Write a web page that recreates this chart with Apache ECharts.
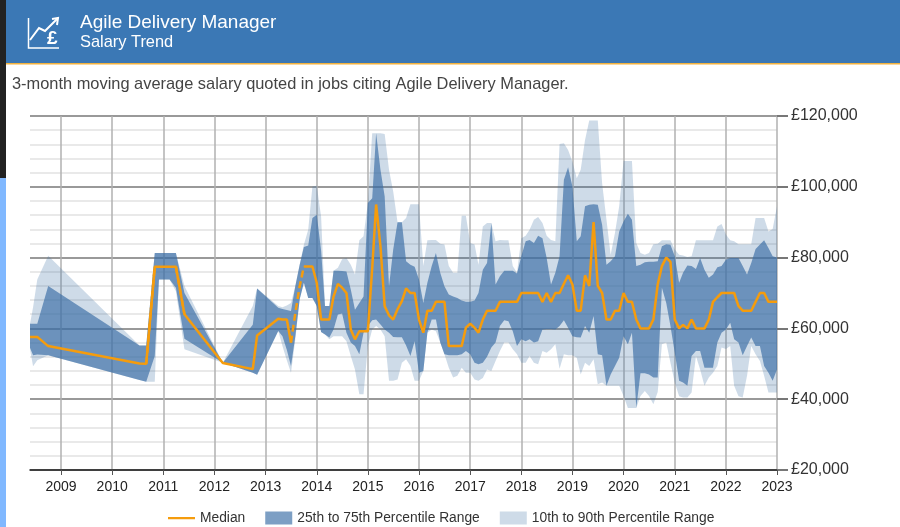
<!DOCTYPE html>
<html>
<head>
<meta charset="utf-8">
<title>Agile Delivery Manager Salary Trend</title>
<script src="https://cdn.jsdelivr.net/npm/echarts@6/dist/echarts.min.js"></script>
<style>
html,body{margin:0;padding:0;background:#fff;overflow:hidden;}
#main{width:900px;height:527px;}
</style>
</head>
<body>
<div id="main"></div>
<script>
// sparse quotes up to spring 2013, monthly after that
var earlyDates = ['2008-05-24','2008-06-15','2008-07-15','2008-10-01','2010-07-15','2010-09-01','2010-11-01','2010-12-01','2011-02-15','2011-04-01','2011-06-01','2012-03-01','2012-10-01','2012-11-01','2013-04-01'];

// salaries in £ thousand
var median = [57.6,57.6,57.6,55,50.1,50,77.4,77.4,77.4,77.4,64,50.2,48.5,58,62.7,
  62.5,62.5,56,64.4,71.9,77.5,77.5,77.5,
  72.9,62.5,62.5,62.5,69,72.6,71.5,70,59.7,56.9,59.2,59.2,
  59.2,77,95,83.2,66.3,63.7,62.5,65.4,67.7,71.3,70,70,
  62.5,58.8,65,65,67.5,67.5,67.5,55,55,55,55,60.2,
  61.3,60.2,58.8,62.5,65,65,65,67.5,67.5,67.5,67.5,67.5,
  70,70,70,70,70,67.5,70,67.5,70,70,72.6,75,
  72.4,65,65,75,72,90,72,70,62.5,62.5,65,65,
  70,67.5,67.5,62.5,60,60,60,62.5,72.4,77.6,80,78.8,
  62.5,60,61,60,62.5,60,60,60,62.5,67.5,68.8,70,
  70,70,70,66.3,65,65,65,67.5,70,70,67.5,67.5,
  67.5];
var p75 = [61.3,61.3,61.3,72,55.2,55.2,81.3,81.3,81.3,81.3,70,50.3,61,71.3,65.8,
  65.5,65.2,64.9,72,78,83,83.4,91.2,
  92.1,82,66.3,66.3,76.3,76.3,76.2,76.1,71,65.3,67.2,69,
  95.4,96.8,115.1,104.8,97.3,71.9,82.3,90,90,79,78,77.4,
  73.8,67.2,72.9,77.6,81.3,75.7,71.9,69.6,69,68.6,67.9,67.5,
  67.5,67.9,70,76.6,78.5,89.8,72.4,74.7,76.3,76.3,76.3,75.5,
  80.4,84.6,85,84.1,86.2,85.5,79.9,72.4,75.7,80.4,102,105.5,
  100.1,84.6,86,94.5,94.9,95.1,94.9,89.3,78,79,80.4,87.4,
  90.2,92.4,90.7,77.6,78,78.7,78.8,78.8,79,83.2,83.8,83.6,
  80.4,72.9,75.7,77.8,77.6,76.8,79.9,76.6,74.3,75.2,77.3,77.6,
  79.4,79.9,79.9,79.9,77.6,75.2,78.5,82.4,83.7,84.9,82.7,80.4,
  80];
var p90 = [61.3,66,73.8,80.5,55.2,55.2,81.3,81.3,81.3,81.3,72,50.3,66.3,71.3,66.3,
  66,66.5,67.2,72,78,83.6,87.9,100.1,
  100.3,91.6,66.3,66.3,76.3,77.1,79.5,79.9,78,75.2,84.9,86,
  95.4,115.1,115.1,115.1,114.9,104.8,98.7,90,90,91.2,95.1,95.1,
  95.1,77.6,84.9,85,85,83.9,83.7,77.6,75.7,75.7,91.8,91.8,
  84.1,83.7,78,88.8,89.8,89.8,84.6,85,84.9,84.9,77.6,75.7,
  85.5,86.2,87.9,90.7,91.5,89.8,86.2,85,84.6,112.1,112.3,110.4,
  107.1,102.4,104.8,113.2,118.7,118.7,118.7,101,90.7,80.8,87,94.5,
  107.3,107.3,107.3,84.1,81.3,80.8,81.3,83.8,83.9,84.9,84.9,84.9,
  82.3,80.8,80.6,80.2,80.4,84.9,84.9,84.9,84.9,84.9,88.8,89.5,
  86.5,84.9,84.6,83.8,83.8,83.8,83.8,91.2,91.2,91.2,87.4,88.1,
  94.5];
var p25 = [54.5,52.4,52.6,52.4,45.4,44.9,52.2,73.8,73.8,71.5,57.1,50.3,47.5,46.9,59.3,
  57.8,54,49.4,57.8,68.2,72.9,68.6,68.6,
  66.3,59,58.3,57.4,59.7,63.9,64.2,58.8,56,55,52.7,58.8,
  60.7,62.3,62.5,61.1,59.7,58.8,57.6,57.5,57.5,55.2,52.2,56.4,
  47.5,48,58.8,62.5,62.5,56,52.7,52.4,52.4,52.4,52.7,53.6,
  52.7,50.3,49.9,50.3,52,54.6,56,60.7,62.3,62,59.2,55,
  56.9,56.4,56.9,56,56.4,59.7,59.8,59.8,59.7,60.7,62.3,60.2,
  57.8,57.5,57.4,60.7,58.8,63.5,52.7,52.4,43.8,47,49.4,51.7,
  57.8,55.5,58.8,37.6,47.3,47.3,47,46.1,46.1,71.5,67.2,60.7,
  53.1,45.2,44.7,43.8,52.2,53.6,53.6,48.9,48.9,48.9,56,58.8,
  59.7,61.6,56.9,56,52.4,55,57.4,55,55,49.4,47.5,45.2,
  48.4];
var p10 = [54.1,49.3,51,52.4,45.4,44.9,44.9,73.8,73.8,70.5,54.1,50.3,47.5,46.9,59.3,
  55,51,47.5,56.9,68.2,72.9,68.6,68.6,
  66.3,59,58.3,56.9,57.8,57.8,57.8,56.4,52.2,48.4,41.4,41.4,
  55,59.7,60.7,59.7,57.8,45.2,45.2,45.6,50.3,51.3,49.4,45.2,
  45.2,48,58.8,59.7,59.2,56,52.7,48.9,46.1,46.6,48.9,47.5,
  47.5,45.6,45.2,46,48.4,48,50.8,53.6,56,56,54.1,52.7,
  50.3,50.3,52.2,50.3,49.9,53.6,53.1,54.1,55.5,48.6,52.7,52.4,
  52.4,51.7,47,50.3,49.4,51.3,44.2,44.7,43.8,43.8,43.8,43.8,
  40.9,37.5,37.5,37.5,40.9,42.3,40.9,38.6,42,55.5,56,50.3,
  44.7,40.8,40.5,40.5,41.9,52.2,48.4,43.8,46.1,47.5,49.4,54.6,
  54.2,55,43.8,40.8,40.5,46.6,55,52.7,50.8,46.6,41.9,41.9,
  41.9];

// stretches where the median line shows dashed in the source
var dashedSpans = [['2010-09-01','2010-11-01'],['2011-04-01','2011-06-01'],['2013-07-01','2013-10-01']];

var dates = earlyDates.slice();
for(var y=2013;y<=2023;y++){
	for(var m=1;m<=12;m++){
		if((y==2013 && m<5) || (y==2023 && m>1)) continue;
		dates.push(y+'-'+(m<10?'0':'')+m+'-01');
	}
}

function spanOf(d){
	for(var i=0;i<dashedSpans.length;i++){
		if(d>=dashedSpans[i][0] && d<=dashedSpans[i][1]) return dashedSpans[i];
	}
	return null;
}
// solid line breaks across a span, the dashed one only exists inside it
var medianSolid = dates.map(function(d,i){
	var s=spanOf(d);
	return [d,(s && d!=s[0] && d!=s[1]) ? null : median[i]];
});
var medianDashed = dates.map(function(d,i){
	return [d,spanOf(d) ? median[i] : null];
});

// a band is one polygon, drawn once, through the axis scales
function bandRender(low,high){
	return function(params,api){
		if(params.dataIndex!==0) return;
		var pts=[],i;
		for(i=0;i<dates.length;i++) pts.push(api.coord([+new Date(dates[i]),high[i]]));
		for(i=dates.length-1;i>=0;i--) pts.push(api.coord([+new Date(dates[i]),low[i]]));
		return {type:'polygon',shape:{points:pts},style:{fill:api.visual('color')}};
	};
}
function bandData(low,high){
	return dates.map(function(d,i){return [d,low[i],high[i]];});
}

var myChart = echarts.init(document.getElementById('main'));
var fontName = '"Liberation Sans",Arial,sans-serif';

var option = {
	animation:false,
	title:[
		{text:'Agile Delivery Manager',left:75,top:8,textStyle:{color:'#fff',fontFamily:fontName,fontSize:19,fontWeight:'normal'}},
		{text:'Salary Trend',left:75,top:29,textStyle:{color:'#fff',fontFamily:fontName,fontSize:16.4,fontWeight:'normal'}},
		{text:'3-month moving average salary quoted in jobs citing Agile Delivery Manager.',left:7,top:71,textStyle:{color:'#444',fontFamily:fontName,fontSize:16.4,fontWeight:'normal'}}
	],
	graphic:[
		{type:'rect',z:-1,shape:{x:6,y:0,width:894,height:63},style:{fill:'#3b78b5'}},
		{type:'rect',z:-1,shape:{x:6,y:63,width:894,height:1.5},style:{fill:'#f3b23e'}},
		{type:'rect',z:-1,shape:{x:0,y:0,width:6,height:178},style:{fill:'#222'}},
		{type:'rect',z:-1,shape:{x:0,y:178,width:6,height:349},style:{fill:'#80b8ff'}},
		{type:'polyline',shape:{points:[[28.5,18],[28.5,48],[59,48]]},style:{stroke:'#fff',lineWidth:1.5,fill:null}},
		{type:'polyline',shape:{points:[[30,40],[39,28],[45,31],[58,18]]},style:{stroke:'#fff',lineWidth:2,fill:null}},
		{type:'polyline',shape:{points:[[52,19],[58,18],[57,25]]},style:{stroke:'#fff',lineWidth:2,fill:null}},
		{type:'text',style:{x:47,y:29,text:'£',fill:'#fff',font:'bold 19px '+fontName}}
	],
	grid:{left:30,right:123,top:116,bottom:57},
	legend:{
		top:506,left:163,itemGap:20,itemWidth:27,itemHeight:13,
		textStyle:{color:'#333',fontFamily:fontName,fontSize:13.8},
		data:[
			{name:'Median',icon:'path://M0,0h.01v.01h-.01z M0,5.5h27v2.2h-27z M0,13h.01v.01h-.01z'},
			{name:'25th to 75th Percentile Range',icon:'rect'},
			{name:'10th to 90th Percentile Range',icon:'rect'}
		]
	},
	xAxis:{
		type:'time',
		min:'2008-05-24',max:'2023-01-01',
		minInterval:365*24*3600*1000,maxInterval:366*24*3600*1000,
		axisLine:{onZero:false,lineStyle:{color:'#222',width:1.5}},
		axisTick:{show:true,length:5,lineStyle:{color:'#555'}},
		axisLabel:{color:'#222',fontFamily:fontName,fontSize:14,margin:10,hideOverlap:false,
			showMinLabel:false,showMaxLabel:true,
			formatter:function(v){return String(new Date(v).getFullYear());}},
		splitLine:{show:true,showMinLine:false,lineStyle:{color:'#b0b0b0',width:1.5}}
	},
	yAxis:{
		type:'value',position:'right',min:20,max:120,interval:20,
		axisLine:{show:false},
		axisTick:{show:true,length:11,inside:false,lineStyle:{color:'#777',width:2}},
		axisLabel:{color:'#333',fontFamily:fontName,fontSize:16,margin:14,
			formatter:function(v){return '£'+v+',000';}},
		splitLine:{show:true,lineStyle:{color:'#999',width:2}},
		minorTick:{show:false,splitNumber:5},
		minorSplitLine:{show:true,lineStyle:{color:'#e9e9e9',width:2}}
	},
	series:[
		{name:'10th to 90th Percentile Range',type:'custom',data:bandData(p10,p90),
			encode:{x:0,y:[1,2]},itemStyle:{color:'rgba(58,110,165,0.25)'},renderItem:bandRender(p10,p90),z:2},
		{name:'25th to 75th Percentile Range',type:'custom',data:bandData(p25,p75),
			encode:{x:0,y:[1,2]},itemStyle:{color:'rgba(58,110,165,0.66)'},renderItem:bandRender(p25,p75),z:3},
		{name:'Median',type:'line',data:medianSolid,showSymbol:false,symbol:'none',connectNulls:false,
			lineStyle:{color:'#f59c0d',width:2.5},itemStyle:{color:'#f59c0d'},z:4},
		{name:'Median',type:'line',data:medianDashed,showSymbol:false,symbol:'none',connectNulls:false,
			lineStyle:{color:'#f59c0d',width:2.5,type:[7,4]},itemStyle:{color:'#f59c0d'},z:4}
	]
};
myChart.setOption(option);
</script>
</body>
</html>
